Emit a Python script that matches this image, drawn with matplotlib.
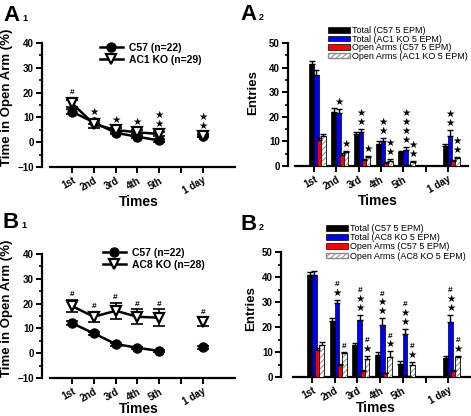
import matplotlib
matplotlib.use('Agg')
import matplotlib.pyplot as plt
import matplotlib.patches as mpatches
from matplotlib.lines import Line2D
import numpy as np

plt.rcParams['font.family'] = ['Liberation Sans', 'DejaVu Sans']
plt.rcParams['hatch.linewidth'] = 0.7

# x categories
times = ['1st', '2nd', '3rd', '4th', '5th', '1 day']
pos = np.array([1, 2, 3, 4, 5, 7])
tick_pos = [1, 2, 3, 4, 5, 6, 7]
tick_lab = ['1st', '2nd', '3rd', '4th', '5th', '', '1 day']

# A1 - time in open arm (%)
a1_c57 = [12.3, 8.0, 3.8, 2.2, 0.7, 2.5]
a1_c57_err = [1.0, 0.8, 0.6, 0.5, 0.5, 0.5]
a1_ko = [15.7, 7.3, 4.9, 4.0, 3.3, 2.6]
a1_ko_err = [1.5, 1.5, 1.0, 0.8, 1.0, 0.6]
a1_marks = [['#'], ['★'], ['★'], ['★'], ['★', '★'], ['★', '★']]

# B1
b1_c57 = [12.1, 8.0, 3.7, 2.2, 0.9, 2.3]
b1_c57_err = [0.8, 0.7, 0.6, 0.5, 0.4, 0.5]
b1_ko = [19.0, 14.7, 17.1, 14.7, 14.3, 12.7]
b1_ko_err = [2.5, 2.0, 3.2, 3.0, 3.4, 1.8]
b1_marks = [['#']] * 6

# A2 - entries
a2_tot_c57 = [41.5, 22.0, 13.0, 9.0, 5.5, 8.0]
a2_tot_c57_err = [1.0, 1.5, 1.0, 1.0, 0.8, 0.8]
a2_tot_ko = [37.0, 21.5, 14.0, 10.0, 6.5, 12.0]
a2_tot_ko_err = [2.0, 1.5, 1.0, 1.3, 1.2, 2.5]
a2_open_c57 = [10.5, 4.5, 2.5, 1.2, 0.3, 2.2]
a2_open_c57_err = [1.0, 0.6, 0.5, 0.3, 0.2, 0.4]
a2_open_ko = [12.0, 5.5, 3.5, 2.2, 1.6, 3.2]
a2_open_ko_err = [1.0, 0.7, 0.7, 0.6, 0.4, 0.5]
a2_tot_marks = [[], ['★'], ['★', '★'], ['★', '★'], ['★'] * 4, ['★', '★']]
a2_open_marks = [[], ['★'], ['★'], ['★', '★'], ['★', '★'], ['★', '★']]

# B2
b2_tot_c57 = [41.0, 22.4, 12.8, 8.8, 5.2, 7.5]
b2_tot_c57_err = [1.0, 1.1, 0.9, 1.2, 1.2, 0.9]
b2_tot_ko = [40.8, 29.5, 22.8, 21.0, 17.2, 22.1]
b2_tot_ko_err = [1.6, 1.3, 2.0, 2.5, 2.0, 2.7]
b2_open_c57 = [10.8, 4.8, 2.4, 1.5, 0.4, 2.5]
b2_open_c57_err = [0.8, 0.5, 0.4, 0.3, 0.2, 0.4]
b2_open_ko = [13.0, 9.5, 7.2, 8.1, 4.8, 7.9]
b2_open_ko_err = [1.1, 0.5, 1.3, 2.3, 1.3, 0.5]
b2_tot_marks = [[], ['★', '#'], ['★', '★', '#'], ['★', '★', '#'], ['★', '★', '#'], ['★', '★', '#']]
b2_open_marks = [[], ['#'], ['★', '#'], ['★', '#'], ['★', '#'], ['★', '#']]

W, H = 471, 416
fig = plt.figure(figsize=(W / 100, H / 100), dpi=100)


def px_axes(l, t, r, b):
    return fig.add_axes([l / W, 1 - b / H, (r - l) / W, (b - t) / H])


def style(ax, xlim, x0, ylim, ystep, ylabel, ylab_xy, xpad):
    ax.set_xlim(xlim)
    ax.set_ylim(ylim)
    for s in ('top', 'right'):
        ax.spines[s].set_visible(False)
    for s in ('left', 'bottom'):
        ax.spines[s].set_linewidth(1.6)
    ax.spines['bottom'].set_bounds(x0, xlim[1])
    ax.set_xticks(tick_pos)
    ax.set_xticklabels(tick_lab, rotation=30, ha='right', rotation_mode='anchor',
                       fontsize=7, fontweight='bold')
    ax.set_yticks(np.arange(ylim[0], ylim[1] + 1, ystep))
    ax.set_yticks(np.arange(ylim[0] + ystep / 2, ylim[1], ystep), minor=True)
    ax.tick_params(which='major', direction='out', length=4, width=1.4, labelsize=7, pad=2)
    ax.tick_params(axis='y', which='minor', direction='out', length=2.5, width=1.2)
    for lab in ax.get_yticklabels():
        lab.set_fontweight('bold')
    ax.set_xlabel('Times', fontsize=10, fontweight='bold', labelpad=xpad)
    ax.set_ylabel(ylabel, fontsize=9.5, fontweight='bold')
    ax.yaxis.set_label_coords(*ylab_xy)


def marks(ax, x, top, syms, first=7, step=9):
    for k, s in enumerate(syms):
        if s == '#':
            ax.annotate(s, (x, top), xytext=(0, (first + k * step - 1) * 0.72),
                        textcoords='offset points', ha='center', va='center',
                        fontsize=6, fontweight='bold', annotation_clip=False)
        else:
            ax.annotate(s, (x, top), xytext=(0, (first + k * step) * 0.72),
                        textcoords='offset points', ha='center', va='center',
                        fontsize=7.5, family=['DejaVu Sans'], annotation_clip=False)


def line_panel(ax, c57, c57e, ko, koe, lab_ko, mk, first, leg_xy):
    idx = slice(0, 5)
    ax.errorbar(pos, c57, yerr=c57e, fmt='none', ecolor='black', elinewidth=1.2,
                capsize=4, capthick=1.2, zorder=2)
    ax.plot(pos[idx], c57[idx], color='black', lw=1.8, zorder=2)
    ax.plot(pos, c57, 'o', color='black', ms=6.5, ls='none', zorder=3)
    ax.errorbar(pos, ko, yerr=koe, fmt='none', ecolor='black', elinewidth=1.2,
                capsize=4, capthick=1.2, zorder=4)
    ax.plot(pos[idx], ko[idx], color='black', lw=1.8, zorder=4)
    ax.plot(pos, ko, 'v', mfc='white', mec='black', mew=1.6, ms=7.5, ls='none', zorder=5)
    for i in range(len(pos)):
        top = max(c57[i] + c57e[i], ko[i] + koe[i])
        marks(ax, pos[i], top, mk[i], first=first)
    hc = Line2D([], [], color='black', lw=1.8, marker='o', ms=6.5)
    hk = Line2D([], [], color='black', lw=1.8, marker='v', ms=7.5, mfc='white', mew=1.6)
    ax.legend([hc, hk], ['C57 (n=22)', lab_ko], loc='upper left',
              bbox_to_anchor=leg_xy, bbox_transform=fig.transFigure,
              frameon=False, borderpad=0, borderaxespad=0, handlelength=2.2,
              handletextpad=0.6, labelspacing=0.2, numpoints=1,
              prop={'weight': 'bold', 'size': 7.5})


def bar_panel(ax, tc, tce, tk, tke, oc, oce, ok, oke, tmarks, omarks, lab_ko, leg_xy, lspace):
    xb = pos - 0.11
    xt = pos + 0.10
    xr = pos + 0.23
    xh = pos + 0.42
    hb = ax.bar(xb, tc, width=0.22, color='black', edgecolor='black', lw=0.5, zorder=2)
    ht = ax.bar(xt, tk, width=0.2, color='#0000ff', edgecolor='black', lw=0.5, zorder=2)
    hr = ax.bar(xr, oc, width=0.18, color='#ff0000', edgecolor='black', lw=0.5, zorder=3)
    ax.bar(xh, ok, width=0.2, color='white', edgecolor='#8a8a8a', hatch='//////', lw=0, zorder=3)
    ax.bar(xh, ok, width=0.2, color='none', edgecolor='black', lw=0.6, zorder=3)
    for x, v, e in ((xb, tc, tce), (xt, tk, tke), (xr, oc, oce), (xh, ok, oke)):
        ax.errorbar(x, v, yerr=[np.zeros(len(e)), e], fmt='none', ecolor='black',
                    elinewidth=1.0, capsize=2.5, capthick=1.0, zorder=4)
    for i in range(len(pos)):
        marks(ax, xt[i], tk[i] + tke[i], tmarks[i], first=7, step=9)
        marks(ax, xh[i], ok[i] + oke[i], omarks[i], first=7, step=9)
    hh_leg = mpatches.Patch(facecolor='white', edgecolor='#8a8a8a', hatch='//////')
    ax.legend([hb, ht, hr, hh_leg],
              ['Total (C57 5 EPM)', 'Total (%s 5 EPM)' % lab_ko,
               'Open Arms (C57 5 EPM)', 'Open Arms (%s 5 EPM)' % lab_ko],
              loc='upper left', bbox_to_anchor=leg_xy, bbox_transform=fig.transFigure,
              frameon=False, borderpad=0, borderaxespad=0, handlelength=2.4,
              handleheight=0.55, handletextpad=0.25, labelspacing=lspace,
              prop={'size': 6.5})


axA1 = px_axes(42, 43, 235, 167)
axA2 = px_axes(288, 43, 468, 166)
axB1 = px_axes(42, 254, 235, 378)
axB2 = px_axes(281, 252, 470, 377)

style(axA1, (-0.38, 8.48), 0.0, (-10, 40), 10, 'Time in Open Arm (%)', (-0.15, 0.56), -1)
style(axB1, (-0.38, 8.48), 0.0, (-10, 40), 10, 'Time in Open Arm (%)', (-0.15, 0.565), -4)
style(axA2, (-0.17, 7.9), 0.15, (0, 50), 10, 'Entries', (-0.16, 0.60), -1)
style(axB2, (-0.37, 7.96), 0.16, (0, 50), 10, 'Entries', (-0.127, 0.55), -4)

line_panel(axA1, a1_c57, a1_c57_err, a1_ko, a1_ko_err, 'AC1 KO (n=29)', a1_marks, 8,
           (100 / W, 1 - 43 / H))
line_panel(axB1, b1_c57, b1_c57_err, b1_ko, b1_ko_err, 'AC8 KO (n=28)', b1_marks, 6,
           (103 / W, 1 - 248 / H))

bar_panel(axA2, a2_tot_c57, a2_tot_c57_err, a2_tot_ko, a2_tot_ko_err,
          a2_open_c57, a2_open_c57_err, a2_open_ko, a2_open_ko_err,
          a2_tot_marks, a2_open_marks, 'AC1 KO', (328 / W, 1 - 26 / H), -0.05)
bar_panel(axB2, b2_tot_c57, b2_tot_c57_err, b2_tot_ko, b2_tot_ko_err,
          b2_open_c57, b2_open_c57_err, b2_open_ko, b2_open_ko_err,
          b2_tot_marks, b2_open_marks, 'AC8 KO', (326 / W, 1 - 224 / H), 0.02)

# panel letters
for x, y, big, small in ((3, 21, 'A', '1'), (240, 20, 'A', '2'),
                         (2, 228, 'B', '1'), (240, 230, 'B', '2')):
    fig.text(x / W, 1 - y / H, big, fontsize=16, fontweight='bold', va='baseline')
    fig.text((x + 19) / W, 1 - y / H, small, fontsize=6.5, fontweight='bold', va='baseline')

fig.savefig('out.png', dpi=100)
